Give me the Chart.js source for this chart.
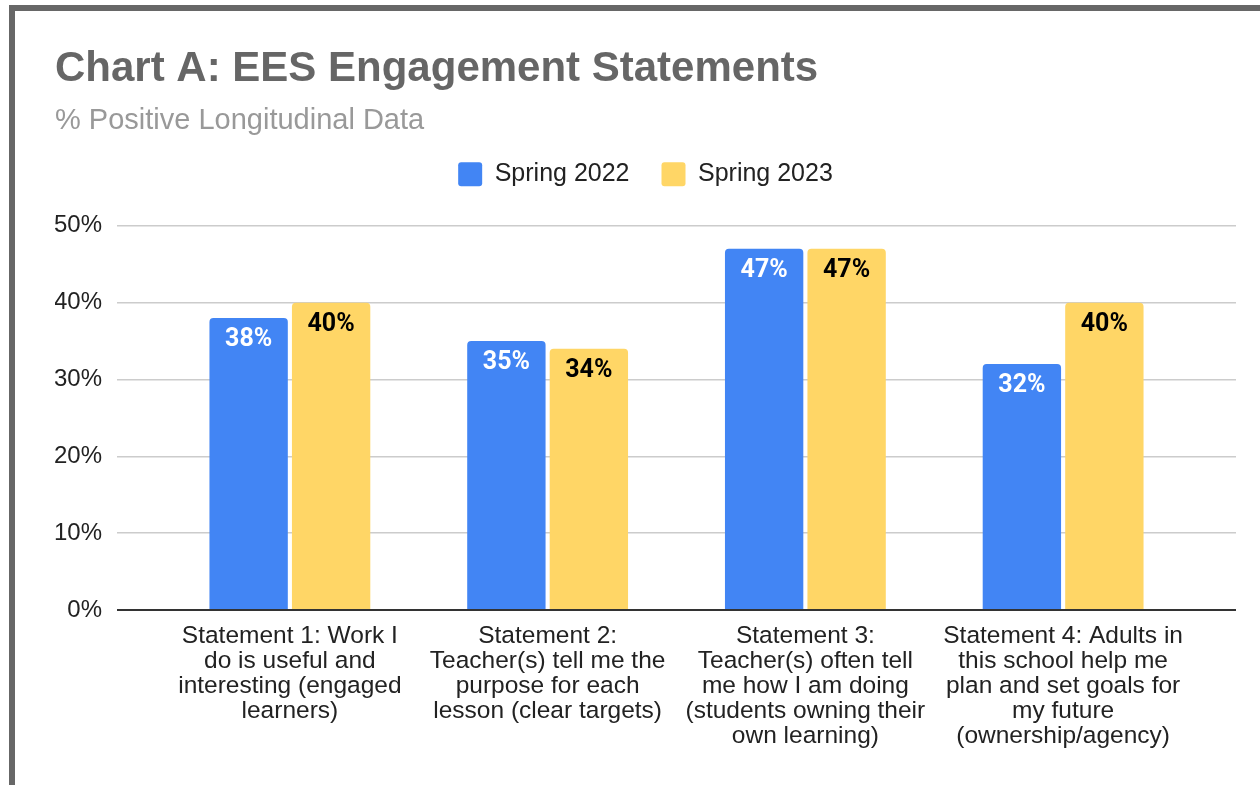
<!DOCTYPE html>
<html>
<head>
<meta charset="utf-8">
<script src="https://cdn.jsdelivr.net/npm/chart.js@4/dist/chart.umd.min.js"></script>
<style>
  html, body { margin: 0; padding: 0; background: #fff; width: 1260px; height: 785px; overflow: hidden; }
  #wrap { position: absolute; left: 0; top: 0; width: 1260px; height: 785px; }
  #frame { position: absolute; left: 9px; top: 5px; right: 0; bottom: 0; border-top: 6px solid #676767; border-left: 6px solid #676767; pointer-events: none; }
</style>
</head>
<body>
<div id="wrap"><canvas id="c"></canvas></div>
<div id="frame"></div>
<script>
const categories = [
  ["Statement 1: Work I", "do is useful and", "interesting (engaged", "learners)"],
  ["Statement 2:", "Teacher(s) tell me the", "purpose for each", "lesson (clear targets)"],
  ["Statement 3:", "Teacher(s) often tell", "me how I am doing", "(students owning their", "own learning)"],
  ["Statement 4: Adults in", "this school help me", "plan and set goals for", "my future", "(ownership/agency)"]
];
const seriesNames = ["Spring 2022", "Spring 2023"];
const spring2022 = [38, 35, 47, 32];
const spring2023 = [40, 34, 47, 40];
const yTickLabels = ["0%", "10%", "20%", "30%", "40%", "50%"];

const FONT = "'Liberation Sans', Arial, Helvetica, sans-serif";

const legendSpacer = {
  id: 'legendSpacer',
  beforeLayout(chart) {
    const lg = chart.legend;
    if (lg && !lg._spacerPatched) {
      const orig = lg.fit.bind(lg);
      lg.fit = function () { orig(); this.height += 29; };
      lg._spacerPatched = true;
    }
  }
};

const barLabels = {
  id: 'barLabels',
  afterDatasetsDraw(chart) {
    const ctx = chart.ctx;
    ctx.save();
    ctx.font = "bold 25px Roboto, 'Liberation Sans', sans-serif";
    ctx.textAlign = 'center';
    ctx.textBaseline = 'middle';
    chart.data.datasets.forEach((ds, di) => {
      const meta = chart.getDatasetMeta(di);
      meta.data.forEach((bar, i) => {
        ctx.fillStyle = di === 0 ? '#ffffff' : '#000000';
        ctx.fillText(ds.data[i] + '%', bar.x, bar.y + 22);
      });
    });
    ctx.restore();
  }
};

const gridColor = (c) => (c.tick && c.tick.value === 0) ? '#333333' : '#cccccc';
const gridWidth = (c) => (c.tick && c.tick.value === 0) ? 2 : 1.5;

new Chart(document.getElementById('c'), {
  type: 'bar',
  data: {
    labels: categories,
    datasets: [
      {
        label: seriesNames[0],
        data: spring2022,
        backgroundColor: '#4285F4',
        borderRadius: { topLeft: 4, topRight: 4, bottomLeft: 0, bottomRight: 0 },
        borderSkipped: 'start',
        categoryPercentage: 0.64,
        barPercentage: 0.95,
        yAxisID: 'y'
      },
      {
        label: seriesNames[1],
        data: spring2023,
        backgroundColor: '#FFD666',
        borderRadius: { topLeft: 4, topRight: 4, bottomLeft: 0, bottomRight: 0 },
        borderSkipped: 'start',
        categoryPercentage: 0.64,
        barPercentage: 0.95,
        yAxisID: 'y'
      }
    ]
  },
  options: {
    responsive: true,
    maintainAspectRatio: false,
    animation: false,
    layout: { padding: { left: 55, right: 24, top: 0, bottom: 0 } },
    plugins: {
      title: {
        display: true,
        text: 'Chart A: EES Engagement Statements',
        align: 'start',
        color: '#666666',
        font: { family: FONT, size: 42, weight: 'bold', lineHeight: 1.2 },
        padding: { top: 44, bottom: 0 }
      },
      subtitle: {
        display: true,
        text: '% Positive Longitudinal Data',
        align: 'start',
        color: '#999999',
        font: { family: FONT, size: 29, weight: 'normal', lineHeight: 0.6 },
        padding: { top: 18, bottom: 0 }
      },
      legend: {
        display: true,
        position: 'top',
        align: 'center',
        labels: {
          color: '#222222',
          font: { family: FONT, size: 25 },
          boxWidth: 24,
          boxHeight: 24,
          padding: 32,
          useBorderRadius: true,
          borderRadius: 3
        }
      },
      tooltip: { enabled: false }
    },
    scales: {
      x: {
        grid: { display: false, drawTicks: false },
        border: { display: false },
        ticks: {
          color: '#222222',
          font: { family: FONT, size: 24.5, lineHeight: '25px' },
          padding: 14,
          maxRotation: 0,
          minRotation: 0,
          autoSkip: false
        },
        afterFit(s) { s.height = 175; }
      },
      y: {
        position: 'left',
        min: 0,
        max: 50,
        border: { display: false },
        grid: { color: gridColor, tickColor: gridColor, lineWidth: gridWidth, drawTicks: true, tickLength: 44 },
        ticks: {
          stepSize: 10,
          color: '#222222',
          font: { family: FONT, size: 24 },
          padding: 15,
          callback: (v, i) => yTickLabels[i]
        },
        afterFit(s) { s.width = 106; }
      },
      y2: {
        position: 'right',
        min: 0,
        max: 50,
        border: { display: false },
        grid: { color: gridColor, tickColor: gridColor, lineWidth: gridWidth, drawTicks: true, tickLength: 44, drawOnChartArea: false },
        ticks: { stepSize: 10, display: false },
        afterFit(s) { s.width = 44; }
      }
    }
  },
  plugins: [legendSpacer, barLabels]
});
</script>
</body>
</html>
